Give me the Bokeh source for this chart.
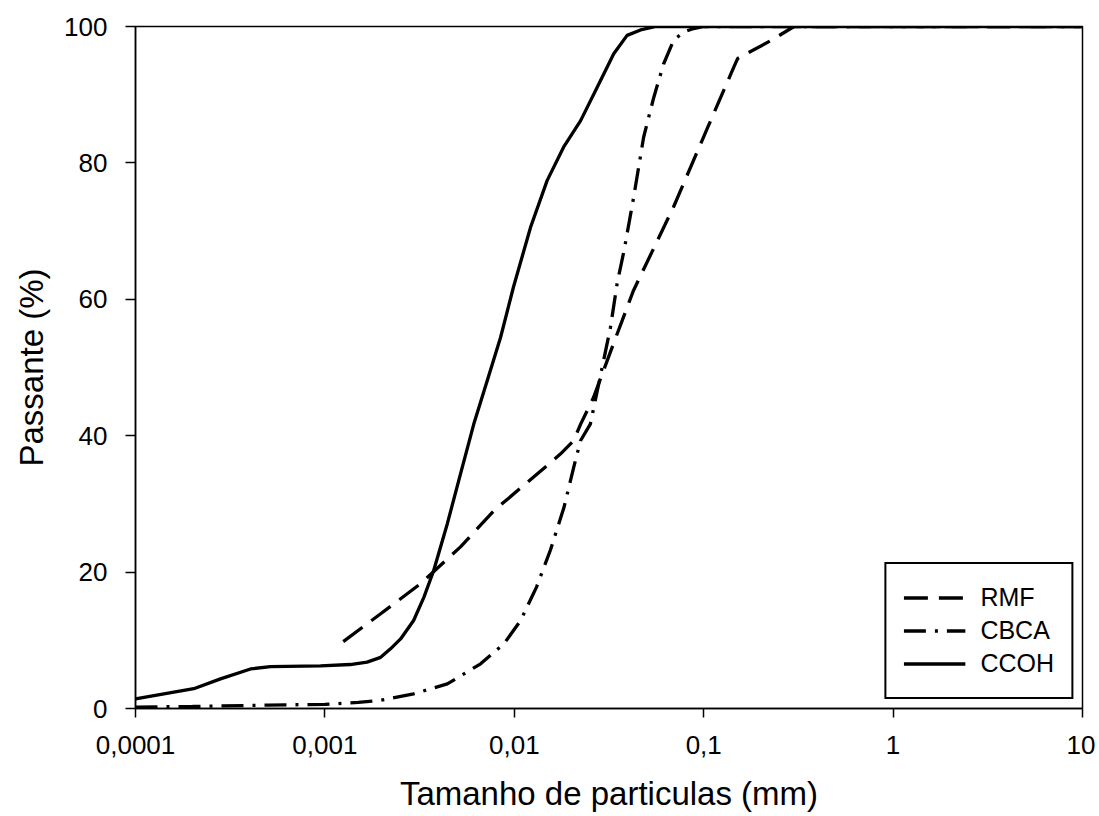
from bokeh.plotting import figure
from bokeh.models import FixedTicker, Legend, LegendItem
from bokeh.embed import file_html
from bokeh.resources import INLINE

# ---- data ----
rmf_x = [0.00125, 0.00197, 0.0032, 0.0052, 0.0078, 0.0126, 0.0175, 0.0206, 0.0224, 0.0262, 0.0334,
         0.0426, 0.0692, 0.105, 0.144, 0.151, 0.225, 0.30, 10]
rmf_y = [9.8, 13.9, 18.3, 23.7, 29.0, 33.9, 37.3, 39.3, 41.7, 45.6, 53.5,
         61.3, 73.5, 85.2, 94.0, 95.3, 97.9, 100, 100]

cbca_x = [0.0001, 0.0002, 0.0005, 0.001, 0.0015, 0.00197, 0.00294, 0.00443, 0.00664, 0.00882,
          0.0108, 0.0131, 0.0155, 0.0183, 0.0206, 0.0224, 0.0252, 0.0284, 0.0322, 0.0349, 0.038,
          0.0427, 0.0482, 0.0545, 0.0614, 0.0694, 0.0785, 0.0886, 0.1, 10]
cbca_y = [0.2, 0.3, 0.5, 0.6, 0.9, 1.2, 2.15, 3.6, 6.55, 9.5,
          12.9, 17.8, 23.2, 29.5, 35.4, 39.3, 41.7, 48.6, 55.9, 62.3, 67.2,
          75.0, 83.8, 89.6, 94.5, 98.0, 99.2, 99.7, 100, 100]

ccoh_x = [0.0001, 0.000203, 0.000281, 0.000405, 0.000516, 0.000948, 0.00136, 0.00167, 0.00197,
          0.00222, 0.00251, 0.00294, 0.00333, 0.00375, 0.00443, 0.0052, 0.00611, 0.0072, 0.00846,
          0.0099, 0.0122, 0.0149, 0.0182, 0.0224, 0.0274, 0.0335, 0.0394, 0.0464, 0.056, 10]
ccoh_y = [1.4, 2.9, 4.35, 5.8, 6.15, 6.25, 6.45, 6.8, 7.5,
          8.75, 10.2, 12.9, 16.3, 20.2, 27.1, 34.4, 41.7, 48.1, 54.4,
          61.8, 70.6, 77.4, 82.3, 86.2, 91.1, 96.0, 98.7, 99.5, 100, 100]

x_ticks = [0.0001, 0.001, 0.01, 0.1, 1, 10]
x_tick_labels = ["0,0001", "0,001", "0,01", "0,1", "1", "10"]
y_ticks = [0, 20, 40, 60, 80, 100]

FONT = "Liberation Sans"

p = figure(width=1095, height=814, x_axis_type="log", x_range=(0.0001, 10), y_range=(0, 100),
           output_backend="svg", toolbar_location=None,
           min_border_left=135, min_border_top=26, min_border_right=13, min_border_bottom=106)

p.grid.visible = False
p.outline_line_color = "black"
p.outline_line_width = 1.5
p.background_fill_color = "white"
p.border_fill_color = "white"

# axes
p.xaxis.ticker = FixedTicker(ticks=x_ticks)
p.xaxis.major_label_overrides = {t: l for t, l in zip(x_ticks, x_tick_labels)}
p.yaxis.ticker = FixedTicker(ticks=y_ticks)
for ax in (p.xaxis[0], p.yaxis[0]):
    ax.axis_line_color = "black"
    ax.axis_line_width = 1.5
    ax.major_tick_line_color = "black"
    ax.major_tick_line_width = 1.5
    ax.major_tick_in = 0
    ax.minor_tick_line_color = None
    ax.major_label_text_font = FONT
    ax.major_label_text_font_size = "26px"
    ax.major_label_text_color = "black"
    ax.axis_label_text_font = FONT
    ax.axis_label_text_font_size = "33px"
    ax.axis_label_text_font_style = "normal"
    ax.axis_label_text_color = "black"

p.xaxis.major_tick_out = 9
p.xaxis.major_label_standoff = 18
p.xaxis.axis_label = "Tamanho de particulas (mm)"
p.xaxis.axis_label_standoff = 18

p.yaxis.major_tick_out = 10
p.yaxis.major_label_standoff = 18
p.yaxis.axis_label = "Passante (%)"
p.yaxis.axis_label_standoff = 11

r_rmf = p.line(rmf_x, rmf_y, line_color="black", line_width=3.3, line_dash="24 11")
r_cbca = p.line(cbca_x, cbca_y, line_color="black", line_width=3.3, line_dash="22 9 3 9")
r_ccoh = p.line(ccoh_x, ccoh_y, line_color="black", line_width=3.3)

legend = Legend(items=[LegendItem(label="RMF", renderers=[r_rmf]),
                       LegendItem(label="CBCA", renderers=[r_cbca]),
                       LegendItem(label="CCOH", renderers=[r_ccoh])],
                location="bottom_right")
legend.margin = 9
legend.padding = 17
legend.spacing = 0
legend.glyph_width = 62
legend.glyph_height = 33
legend.label_height = 33
legend.label_standoff = 15
legend.label_text_font = FONT
legend.label_text_font_size = "25px"
legend.label_text_color = "black"
legend.border_line_color = "black"
legend.border_line_alpha = 1
legend.border_line_width = 2
legend.background_fill_alpha = 1
p.add_layout(legend)

open("out.html", "w").write(file_html(p, INLINE))
